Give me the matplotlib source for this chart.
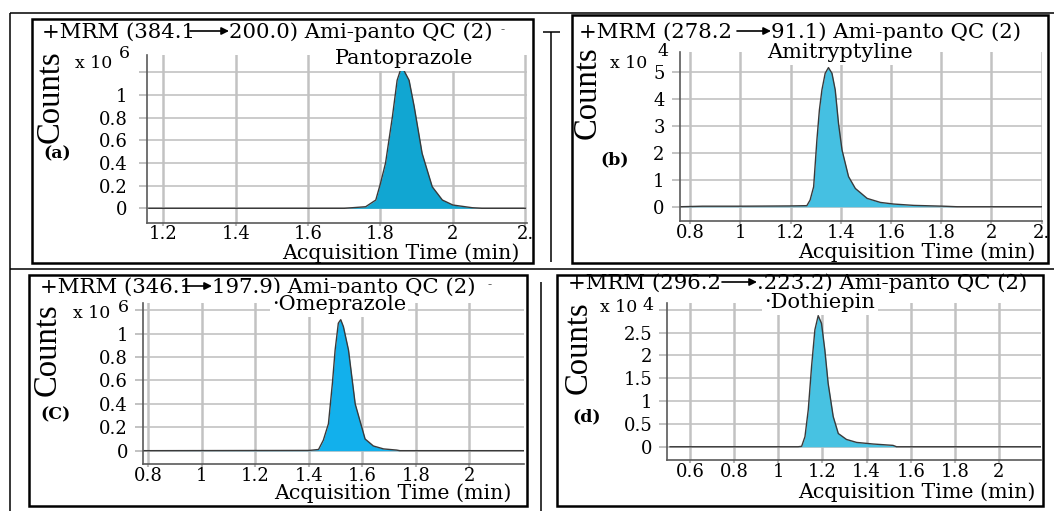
import matplotlib
matplotlib.use('Agg')
import matplotlib.pyplot as plt
from matplotlib.patches import Rectangle

# ---------------- data ----------------
# (a) Pantoprazole, counts x 10^6
a_time = [1.16, 1.70, 1.759, 1.787, 1.800, 1.814, 1.833, 1.846, 1.856, 1.865, 1.879,
          1.893, 1.915, 1.943, 1.971, 2.000, 2.054, 2.08, 2.20]
a_counts = [0, 0, 0.014, 0.073, 0.22, 0.40, 0.81, 1.13, 1.227, 1.215, 1.13,
            0.90, 0.485, 0.19, 0.073, 0.029, 0.005, 0, 0]
a_xticks = [1.2, 1.4, 1.6, 1.8, 2.0, 2.2]
a_xticklabels = ['1.2', '1.4', '1.6', '1.8', '2', '2.']
a_yticks = [0, 0.2, 0.4, 0.6, 0.8, 1.0, 1.2]
a_yticklabels = ['0', '0.2', '0.4', '0.6', '0.8', '1', '']

# (b) Amitryptyline, counts x 10^4
b_time = [0.76, 0.85, 1.0, 1.2, 1.265, 1.278, 1.292, 1.305, 1.315, 1.325, 1.338, 1.351,
          1.365, 1.378, 1.391, 1.405, 1.431, 1.458, 1.505, 1.558, 1.611, 1.691, 1.81, 1.863, 2.20]
b_counts = [0, 0.02, 0.02, 0.03, 0.04, 0.25, 0.74, 2.48, 3.6, 4.34, 4.96, 5.17,
            4.96, 4.34, 3.1, 2.11, 1.12, 0.68, 0.31, 0.16, 0.10, 0.05, 0.02, 0, 0]
b_xticks = [0.8, 1.0, 1.2, 1.4, 1.6, 1.8, 2.0, 2.2]
b_xticklabels = ['0.8', '1', '1.2', '1.4', '1.6', '1.8', '2', '2.']
b_yticks = [0, 1, 2, 3, 4, 5]
b_yticklabels = ['0', '1', '2', '3', '4', '5']

# (c) Omeprazole, counts x 10^6
c_time = [0.781, 1.40, 1.436, 1.454, 1.473, 1.488, 1.498, 1.510, 1.519, 1.529, 1.548,
          1.573, 1.610, 1.641, 1.679, 1.728, 1.74, 2.204]
c_counts = [0, 0.002, 0.01, 0.09, 0.23, 0.58, 0.86, 1.09, 1.12, 1.06, 0.86,
            0.40, 0.10, 0.04, 0.015, 0.005, 0, 0]
c_xticks = [0.8, 1.0, 1.2, 1.4, 1.6, 1.8, 2.0]
c_xticklabels = ['0.8', '1', '1.2', '1.4', '1.6', '1.8', '2']
c_yticks = [0, 0.2, 0.4, 0.6, 0.8, 1.0, 1.2]
c_yticklabels = ['0', '0.2', '0.4', '0.6', '0.8', '1', '']

# (d) Dothiepin, counts x 10^4
d_time = [0.51, 1.09, 1.106, 1.121, 1.136, 1.151, 1.166, 1.181, 1.196, 1.211, 1.226,
          1.249, 1.272, 1.309, 1.355, 1.43, 1.52, 1.536, 2.189]
d_counts = [0, 0, 0.01, 0.22, 0.81, 1.76, 2.56, 2.87, 2.70, 2.12, 1.39,
            0.66, 0.29, 0.16, 0.095, 0.06, 0.03, 0, 0]
d_xticks = [0.6, 0.8, 1.0, 1.2, 1.4, 1.6, 1.8, 2.0]
d_xticklabels = ['0.6', '0.8', '1', '1.2', '1.4', '1.6', '1.8', '2']
d_yticks = [0, 0.5, 1.0, 1.5, 2.0, 2.5, 3.0]
d_yticklabels = ['0', '0.5', '1', '1.5', '2', '2.5', '']

header_left = ['+MRM (384.1', '+MRM (278.2', '+MRM (346.1', '+MRM (296.2']
header_right = ['200.0) Ami-panto QC (2)', '91.1) Ami-panto QC (2)',
                '197.9) Ami-panto QC (2)', '.223.2) Ami-panto QC (2)']
compound_names = ['Pantoprazole', 'Amitryptyline', '\u00b7Omeprazole', '\u00b7Dothiepin']
exponents = ['6', '4', '6', '4']
panel_tags = ['(a)', '(b)', '(C)', '(d)']

# ---------------- layout ----------------
W, H = 1054, 511
plt.rcParams['font.family'] = 'DejaVu Serif'

fig = plt.figure(figsize=(W / 100, H / 100), dpi=100)


def fig_rect(x0, y0, x1, y1):
    return [x0 / W, 1 - y1 / H, (x1 - x0) / W, (y1 - y0) / H]


panels = [
    dict(t=a_time, v=a_counts, xt=a_xticks, xtl=a_xticklabels, yt=a_yticks, ytl=a_yticklabels,
         box=(146.7, 55, 526.7, 222.7), xlim=(1.154, 2.204), ylim=(-0.127, 1.353),
         fill='#11a6d2', ypad=11, xpad=0,
         hl=(42, 32), arrow=(190, 229, 31), hr=(229, 32), dash=(503, 30),
         name=(404, 59), counts=(50, 97), x10=(75, 64), exp=(124, 54), tag=(57, 154),
         xlabel=(401, 253.5)),
    dict(t=b_time, v=b_counts, xt=b_xticks, xtl=b_xticklabels, yt=b_yticks, ytl=b_yticklabels,
         box=(680, 52, 1041.7, 221), xlim=(0.76, 2.20), ylim=(-0.53, 5.75),
         fill='#45c0e2', ypad=7, xpad=0,
         hl=(579, 32), arrow=(737, 771, 31), hr=(771, 32), dash=None,
         name=(840, 53), counts=(587, 93), x10=(610, 63), exp=(663, 52), tag=(615, 160),
         xlabel=(917, 252)),
    dict(t=c_time, v=c_counts, xt=c_xticks, xtl=c_xticklabels, yt=c_yticks, ytl=c_yticklabels,
         box=(143.3, 303.3, 524, 464), xlim=(0.781, 2.204), ylim=(-0.114, 1.26),
         fill='#12b0ec', ypad=7, xpad=0,
         hl=(40, 287), arrow=(183, 212, 286), hr=(212, 287), dash=(490, 285),
         name=(339, 305), counts=(47, 350), x10=(73, 313), exp=(123, 308), tag=(55, 415),
         xlabel=(393, 493.5)),
    dict(t=d_time, v=d_counts, xt=d_xticks, xtl=d_xticklabels, yt=d_yticks, ytl=d_yticklabels,
         box=(667, 303.3, 1040.7, 460), xlim=(0.496, 2.189), ylim=(-0.29, 3.14),
         fill='#47c2e2', ypad=6, xpad=0,
         hl=(568, 283), arrow=(722, 757, 282), hr=(757, 283), dash=None,
         name=(820, 303), counts=(578, 348), x10=(600, 307), exp=(648, 306), tag=(587, 417),
         xlabel=(917, 492)),
]

grid_col = '#c2c2c2'
for p in panels:
    ax = fig.add_axes(fig_rect(*p['box']))
    ax.set_xlim(*p['xlim'])
    ax.set_ylim(*p['ylim'])
    ax.set_xticks(p['xt'])
    ax.set_xticklabels(p['xtl'])
    ax.set_yticks(p['yt'])
    ax.set_yticklabels(p['ytl'])
    ax.set_axisbelow(True)
    ax.grid(axis='x', color=grid_col, lw=1.8)
    ax.grid(axis='y', color=grid_col, lw=1.2)
    for s in ['top', 'right']:
        ax.spines[s].set_visible(False)
    for s in ['left', 'bottom']:
        ax.spines[s].set_color('#5a5a5a')
        ax.spines[s].set_linewidth(1.2)
    ax.fill_between(p['t'], p['v'], 0, color=p['fill'], lw=0)
    ax.plot(p['t'], p['v'], color='#3a3a3a', lw=1.0)
    ax.tick_params(axis='y', length=6, width=1.2, color='#b8b8b8',
                   pad=p['ypad'] * 0.72, labelsize=13)
    ax.tick_params(axis='x', length=2, width=1.5, color='#b8b8b8',
                   pad=p['xpad'] * 0.72, labelsize=13)

# overlay for frames and texts (pixel coordinates)
ov = fig.add_axes([0, 0, 1, 1], facecolor='none', zorder=5)
ov.set_xlim(0, W)
ov.set_ylim(H, 0)
ov.axis('off')


def line(x0, y0, x1, y1, lw=1.1):
    ov.plot([x0, x1], [y0, y1], color='black', lw=lw, solid_capstyle='butt')


def box(x0, y0, x1, y1, lw=1.8):
    ov.add_patch(Rectangle((x0, y0), x1 - x0, y1 - y0, fill=False, ec='black', lw=lw))


line(10, 13, 1054, 13)
line(10, 13, 10, 511)
line(10, 269, 1054, 269)
line(551, 32, 551, 262)
line(543, 32, 560, 32)
line(541, 282, 541, 511)
box(32, 19, 533, 263)
box(572, 15, 1048, 263)
box(29, 275, 527, 506)
box(557, 275, 1043, 506)

for i, p in enumerate(panels):
    ov.text(*p['hl'], header_left[i], ha='left', va='center', fontsize=15.3)
    ov.text(*p['hr'], header_right[i], ha='left', va='center', fontsize=15.3)
    x0, x1, ya = p['arrow']
    ov.annotate('', xy=(x1, ya), xytext=(x0, ya),
                arrowprops=dict(arrowstyle='-|>', lw=1.2, color='black',
                                mutation_scale=11, shrinkA=0, shrinkB=0))
    if p['dash']:
        ov.text(*p['dash'], '-', ha='center', va='center', fontsize=9, color='#444')
    ov.text(*p['name'], compound_names[i], ha='center', va='center', fontsize=15,
            bbox=dict(facecolor='white', edgecolor='none', pad=1.5))
    ov.text(*p['counts'], 'Counts', ha='center', va='center', rotation=90,
            fontsize=23.5, family='Liberation Serif')
    ov.text(*p['x10'], 'x 10', ha='left', va='center', fontsize=12.5)
    ov.text(*p['exp'], exponents[i], ha='center', va='center', fontsize=12.5)
    ov.text(*p['tag'], panel_tags[i], ha='center', va='center', fontsize=12.5,
            fontweight='bold')
    ov.text(*p['xlabel'], 'Acquisition Time (min)', ha='center', va='center', fontsize=14.8)

fig.savefig('out.png', dpi=100)
